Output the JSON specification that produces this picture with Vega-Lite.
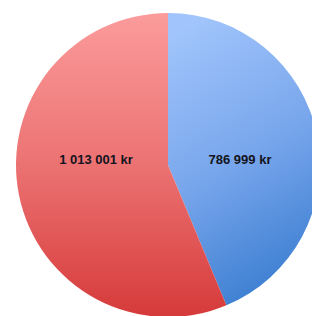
{
  "$schema": "https://vega.github.io/schema/vega-lite/v6.json",
  "width": 288,
  "height": 302,
  "autosize": {"type": "none"},
  "padding": {"left": 24, "top": 14, "right": 0, "bottom": 0},
  "background": "white",
  "config": {"view": {"stroke": null}},
  "data": {
    "values": [
      {"label": "786 999 kr", "value": 786999},
      {"label": "1 013 001 kr", "value": 1013001}
    ]
  },
  "layer": [
    {
      "mark": {"type": "arc", "radius": 152},
      "encoding": {
        "theta": {"field": "value", "type": "quantitative", "stack": true},
        "order": {"field": "value", "sort": "ascending"},
        "color": {
          "condition": {
            "test": "datum.label === '786 999 kr'",
            "value": {
              "gradient": "linear", "x1": 0.3, "y1": 0, "x2": 0.6, "y2": 1,
              "stops": [
                {"offset": 0, "color": "#a0c4fb"},
                {"offset": 0.5, "color": "#78a6ec"},
                {"offset": 1, "color": "#3a7dd0"}
              ]
            }
          },
          "value": {
            "gradient": "linear", "x1": 0, "y1": 0, "x2": 0, "y2": 1,
            "stops": [
              {"offset": 0, "color": "#fb9b9b"},
              {"offset": 0.5, "color": "#ec7272"},
              {"offset": 1, "color": "#d63a3a"}
            ]
          }
        }
      }
    },
    {
      "mark": {"type": "text", "fontSize": 13, "fontWeight": "bold", "font": "Liberation Sans", "color": "#141420", "dy": -5},
      "encoding": {
        "x": {
          "field": "label", "type": "nominal",
          "sort": ["1 013 001 kr", "786 999 kr"],
          "axis": null,
          "scale": {"paddingOuter": 0.07, "paddingInner": 0}
        },
        "text": {"field": "label"}
      }
    }
  ]
}
